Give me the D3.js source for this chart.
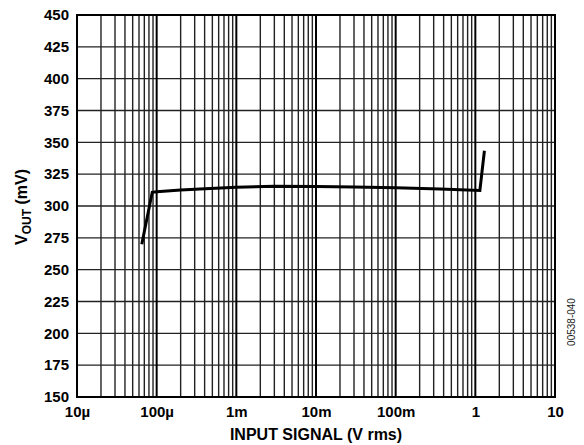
<!DOCTYPE html>
<html><head><meta charset="utf-8">
<script src="https://cdn.jsdelivr.net/npm/d3@7"></script>
<style>body{margin:0;background:#fff;} text{font-family:"Liberation Sans",Arial,sans-serif;}</style>
</head><body>
<svg id="c" width="584" height="445"></svg>
<script>
const inputV = [65e-6, 88e-6, 100e-6, 200e-6, 350e-6, 1e-3, 3e-3, 10e-3, 30e-3, 100e-3, 360e-3, 1.14, 1.3];
const voutMV = [270, 310.8, 311.2, 312.5, 313.4, 314.8, 315.6, 315.4, 315.0, 314.3, 313.4, 312.2, 343.4];
const xTickValues = [1e-5, 1e-4, 1e-3, 1e-2, 1e-1, 1, 10];
const xTickLabels = ["10µ", "100µ", "1m", "10m", "100m", "1", "10"];
const yTickValues = [150, 175, 200, 225, 250, 275, 300, 325, 350, 375, 400, 425, 450];

const L = 77, R = 555, T = 15, B = 397;
const svg = d3.select("#c");
const x = d3.scaleLog().domain([1e-5, 10]).range([L, R]);
const y = d3.scaleLinear().domain([150, 450]).range([B, T]);

// minor vertical grid
const minor = [];
for (let d = -5; d < 1; d++) for (let k = 2; k <= 9; k++) minor.push(k * Math.pow(10, d));
svg.append("g").selectAll("line").data(minor).join("line")
  .attr("x1", d => x(d)).attr("x2", d => x(d)).attr("y1", T).attr("y2", B)
  .attr("stroke", "#222").attr("stroke-width", 1.4);
// horizontal grid
svg.append("g").selectAll("line").data(yTickValues).join("line")
  .attr("x1", L).attr("x2", R).attr("y1", d => y(d)).attr("y2", d => y(d))
  .attr("stroke", "#222").attr("stroke-width", 1.4);
// major verticals
svg.append("g").selectAll("line").data(xTickValues).join("line")
  .attr("x1", d => x(d)).attr("x2", d => x(d)).attr("y1", T).attr("y2", B)
  .attr("stroke", "#000").attr("stroke-width", 2);
// frame
svg.append("rect").attr("x", L).attr("y", T).attr("width", R - L).attr("height", B - T)
  .attr("fill", "none").attr("stroke", "#000").attr("stroke-width", 2);

// axes labels via d3 axes
const xAxis = d3.axisBottom(x).tickValues(xTickValues).tickFormat((d, i) => xTickLabels[i]).tickSize(0).tickPadding(9);
const gx = svg.append("g").attr("transform", `translate(0,${B})`).call(xAxis);
gx.select(".domain").remove();
gx.selectAll("text").attr("font-size", 15).attr("font-weight", "bold").attr("fill", "#000")
  .attr("font-family", "Liberation Sans, Arial, sans-serif");

const yAxis = d3.axisLeft(y).tickValues(yTickValues).tickSize(0).tickPadding(8);
const gy = svg.append("g").attr("transform", `translate(${L},0)`).call(yAxis);
gy.select(".domain").remove();
gy.selectAll("text").attr("font-size", 15).attr("font-weight", "bold").attr("fill", "#000")
  .attr("font-family", "Liberation Sans, Arial, sans-serif");

// curve
const line = d3.line().x((d, i) => x(inputV[i])).y((d, i) => y(voutMV[i]));
svg.append("path").datum(inputV).attr("d", line).attr("fill", "none")
  .attr("stroke", "#000").attr("stroke-width", 3).attr("stroke-linejoin", "miter");

// titles
svg.append("text").attr("x", 316).attr("y", 440).attr("text-anchor", "middle")
  .attr("font-size", 16).attr("font-weight", "bold").text("INPUT SIGNAL (V rms)");
const yt = svg.append("text").attr("transform", "translate(27,207) rotate(-90)")
  .attr("text-anchor", "middle").attr("font-size", 16).attr("font-weight", "bold");
yt.append("tspan").text("V");
yt.append("tspan").attr("font-size", 12).attr("dy", 4).text("OUT");
yt.append("tspan").attr("dy", -4).text(" (mV)");

svg.append("text").attr("transform", "translate(575,322) rotate(-90)")
  .attr("text-anchor", "middle").attr("font-size", 10).attr("fill", "#222").text("00538-040");
</script>
</body></html>
